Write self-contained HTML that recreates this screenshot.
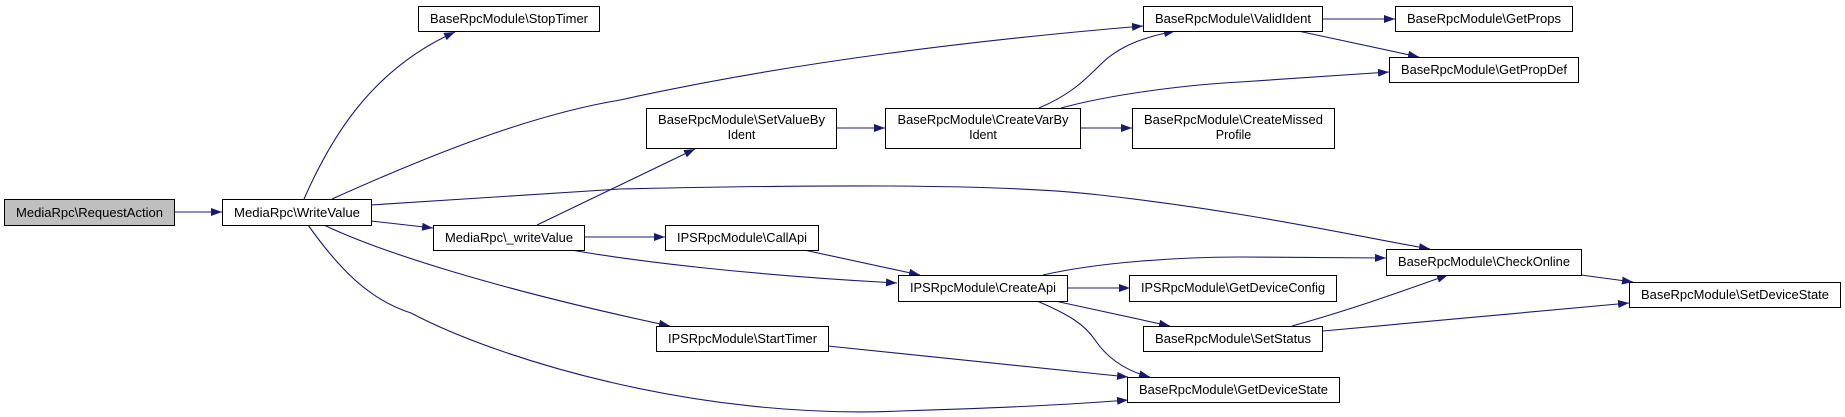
<!DOCTYPE html>
<html><head><meta charset="utf-8"><style>
html,body{margin:0;padding:0;background:#fff;}
svg{display:block;}
text{font-family:"Liberation Sans",Arial,sans-serif;font-size:12.5px;fill:#000;}
</style></head><body>
<svg width="1845" height="417" viewBox="0 0 1845 417" xmlns="http://www.w3.org/2000/svg">
<defs>
<marker id="a" markerWidth="12" markerHeight="8" refX="11" refY="4" orient="auto" markerUnits="userSpaceOnUse">
<path d="M0,0 L11,4 L0,8 z" fill="#191970"/>
</marker>
</defs>
<g fill="none" stroke="#191970" stroke-width="1.1" marker-end="url(#a)">
<path d="M175,212 L222,212"/>
<path d="M304,199 C330,140 370,70 455,32"/>
<path d="M332,199 C430,155 530,115 620,100 C800,60 1000,38 1143,26"/>
<path d="M371,205 L620,189 C800,185 1000,183 1100,195 C1250,212 1350,235 1430,249"/>
<path d="M371,221 L433,228"/>
<path d="M324,225 C380,252 500,290 670,326"/>
<path d="M308,225 C340,270 370,300 411,313 C500,360 700,420 900,411 C1000,408 1080,404 1128,400"/>
<path d="M537,225 L695,149"/>
<path d="M584,237 L665,237"/>
<path d="M571,250 C640,262 750,275 897,283"/>
<path d="M837,128 L885,128"/>
<path d="M1039,108 C1070,95 1085,80 1100,65 C1120,45 1145,37 1175,31"/>
<path d="M1061,108 C1120,92 1200,84 1240,82 L1389,72"/>
<path d="M1080,128 L1132,128"/>
<path d="M1323,19 L1395,19"/>
<path d="M1298,31 L1419,57"/>
<path d="M804,250 L920,275"/>
<path d="M1043,275 C1100,262 1180,257 1240,257 L1386,258"/>
<path d="M1067,288 L1130,288"/>
<path d="M1055,301 L1170,326"/>
<path d="M1037,301 C1070,315 1085,325 1095,340 C1110,362 1130,372 1150,377"/>
<path d="M828,346 L1128,377"/>
<path d="M1292,326 C1350,310 1400,292 1448,275"/>
<path d="M1323,331 L1629,303"/>
<path d="M1581,275 L1633,282"/>
</g>
<g stroke="#000" stroke-width="1">
<rect x="4.5" y="199.5" width="170" height="26" fill="#bfbfbf"/>
<rect x="222.5" y="199.5" width="149" height="26" fill="#fff"/>
<rect x="418.5" y="6.5" width="181" height="25" fill="#fff"/>
<rect x="433.5" y="225.5" width="151" height="25" fill="#fff"/>
<rect x="646.5" y="108.5" width="190" height="40" fill="#fff"/>
<rect x="885.5" y="108.5" width="195" height="40" fill="#fff"/>
<rect x="1143.5" y="6.5" width="179" height="25" fill="#fff"/>
<rect x="1132.5" y="108.5" width="202" height="40" fill="#fff"/>
<rect x="665.5" y="225.5" width="153" height="25" fill="#fff"/>
<rect x="898.5" y="275.5" width="169" height="26" fill="#fff"/>
<rect x="1129.5" y="275.5" width="207" height="26" fill="#fff"/>
<rect x="1143.5" y="326.5" width="179" height="25" fill="#fff"/>
<rect x="656.5" y="326.5" width="172" height="25" fill="#fff"/>
<rect x="1127.5" y="377.5" width="212" height="25" fill="#fff"/>
<rect x="1395.5" y="6.5" width="177" height="25" fill="#fff"/>
<rect x="1389.5" y="57.5" width="189" height="25" fill="#fff"/>
<rect x="1386.5" y="249.5" width="195" height="26" fill="#fff"/>
<rect x="1629.5" y="282.5" width="211" height="25" fill="#fff"/>
</g>
<g text-anchor="middle" lengthAdjust="spacingAndGlyphs">
<text x="89.5" y="217" textLength="147" lengthAdjust="spacingAndGlyphs">MediaRpc\RequestAction</text>
<text x="297" y="217" textLength="126" lengthAdjust="spacingAndGlyphs">MediaRpc\WriteValue</text>
<text x="509" y="23" textLength="158" lengthAdjust="spacingAndGlyphs">BaseRpcModule\StopTimer</text>
<text x="509" y="242" textLength="128" lengthAdjust="spacingAndGlyphs">MediaRpc\_writeValue</text>
<text x="741.5" y="124" textLength="167" lengthAdjust="spacingAndGlyphs">BaseRpcModule\SetValueBy</text>
<text x="741.5" y="139">Ident</text>
<text x="983" y="124" textLength="171" lengthAdjust="spacingAndGlyphs">BaseRpcModule\CreateVarBy</text>
<text x="983" y="139">Ident</text>
<text x="1233" y="23" textLength="156" lengthAdjust="spacingAndGlyphs">BaseRpcModule\ValidIdent</text>
<text x="1233.5" y="124" textLength="179" lengthAdjust="spacingAndGlyphs">BaseRpcModule\CreateMissed</text>
<text x="1233.5" y="139">Profile</text>
<text x="742" y="242" textLength="130" lengthAdjust="spacingAndGlyphs">IPSRpcModule\CallApi</text>
<text x="983" y="292" textLength="146" lengthAdjust="spacingAndGlyphs">IPSRpcModule\CreateApi</text>
<text x="1233" y="292" textLength="184" lengthAdjust="spacingAndGlyphs">IPSRpcModule\GetDeviceConfig</text>
<text x="1233" y="343" textLength="156" lengthAdjust="spacingAndGlyphs">BaseRpcModule\SetStatus</text>
<text x="742.5" y="343" textLength="149" lengthAdjust="spacingAndGlyphs">IPSRpcModule\StartTimer</text>
<text x="1233.5" y="394" textLength="189" lengthAdjust="spacingAndGlyphs">BaseRpcModule\GetDeviceState</text>
<text x="1484" y="23" textLength="154" lengthAdjust="spacingAndGlyphs">BaseRpcModule\GetProps</text>
<text x="1484" y="74" textLength="166" lengthAdjust="spacingAndGlyphs">BaseRpcModule\GetPropDef</text>
<text x="1484" y="266" textLength="172" lengthAdjust="spacingAndGlyphs">BaseRpcModule\CheckOnline</text>
<text x="1735" y="299" textLength="188" lengthAdjust="spacingAndGlyphs">BaseRpcModule\SetDeviceState</text>
</g>
</svg>
</body></html>
